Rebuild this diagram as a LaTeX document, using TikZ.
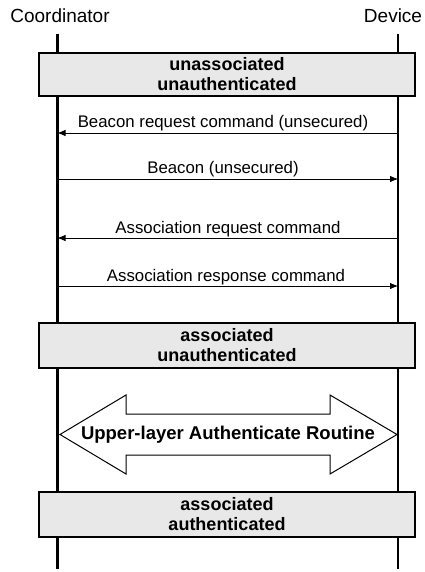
\documentclass[tikz,border=0pt]{standalone}
\usepackage{fontspec}
\setmainfont{Liberation Sans}
\usetikzlibrary{arrows.meta}
\begin{document}
\begin{tikzpicture}[x=1pt,y=-1pt,
  lifeline/.style={line width=2.4pt,black},
  statebox/.style={draw=black,line width=1.3pt,fill=gray!18},
  statetext/.style={font=\fontsize{18}{20}\selectfont\bfseries,align=center,inner sep=0pt},
  msg/.style={line width=0.8pt,-{Latex[length=8pt,width=6.5pt]}},
  msglabel/.style={font=\fontsize{16.8}{19}\selectfont,anchor=base,inner sep=0pt},
  header/.style={font=\fontsize{19}{21}\selectfont,inner sep=0pt,anchor=base}]
\useasboundingbox (0,0) rectangle (424,572);
% headers
\node[header] (coord) at (60,23) {Coordinator};
\node[header] (dev) at (393,23) {Device};
% lifelines
\coordinate (ctop) at (57.5,34);
\coordinate (cbot) at (57.5,569);
\coordinate (dtop) at (398,34);
\coordinate (dbot) at (398,569);
\draw[lifeline] (ctop) -- (cbot);
\draw[lifeline] (dtop) -- (dbot);
% state box 1
\draw[statebox] (39,53) rectangle (415,96);
\node[statetext] (s1) at (227,74.5) {unassociated\\unauthenticated};
% messages
\coordinate (c1) at (57.5,133); \coordinate (d1) at (398,133);
\coordinate (c2) at (57.5,179); \coordinate (d2) at (398,179);
\coordinate (c3) at (57.5,238); \coordinate (d3) at (398,238);
\coordinate (c4) at (57.5,286); \coordinate (d4) at (398,286);
\draw[msg] (d1) -- (c1);
\node[msglabel] (l1) at (223,128) {Beacon request command (unsecured)};
\draw[msg] (c2) -- (d2);
\node[msglabel] (l2) at (223,174) {Beacon (unsecured)};
\draw[msg] (d3) -- (c3);
\node[msglabel] (l3) at (228,233) {Association request command};
\draw[msg] (c4) -- (d4);
\node[msglabel] (l4) at (226,281) {Association response command};
% state box 2
\draw[statebox] (39,323) rectangle (415,368);
\node[statetext] (s2) at (227,345.5) {associated\\unauthenticated};
% double arrow
\draw[line width=1pt,fill=white] (60,434.5) -- (126,395) -- (126,414) -- (330,414) -- (330,395) -- (397,434.5)
  -- (330,474) -- (330,455) -- (126,455) -- (126,474) -- cycle;
\node[font=\fontsize{18.5}{21}\selectfont\bfseries,inner sep=0pt] (auth) at (228,434.5) {Upper-layer Authenticate Routine};
% state box 3
\draw[statebox] (39,492) rectangle (415,537);
\node[statetext] (s3) at (227,514.5) {associated\\authenticated};
\end{tikzpicture}
\end{document}
